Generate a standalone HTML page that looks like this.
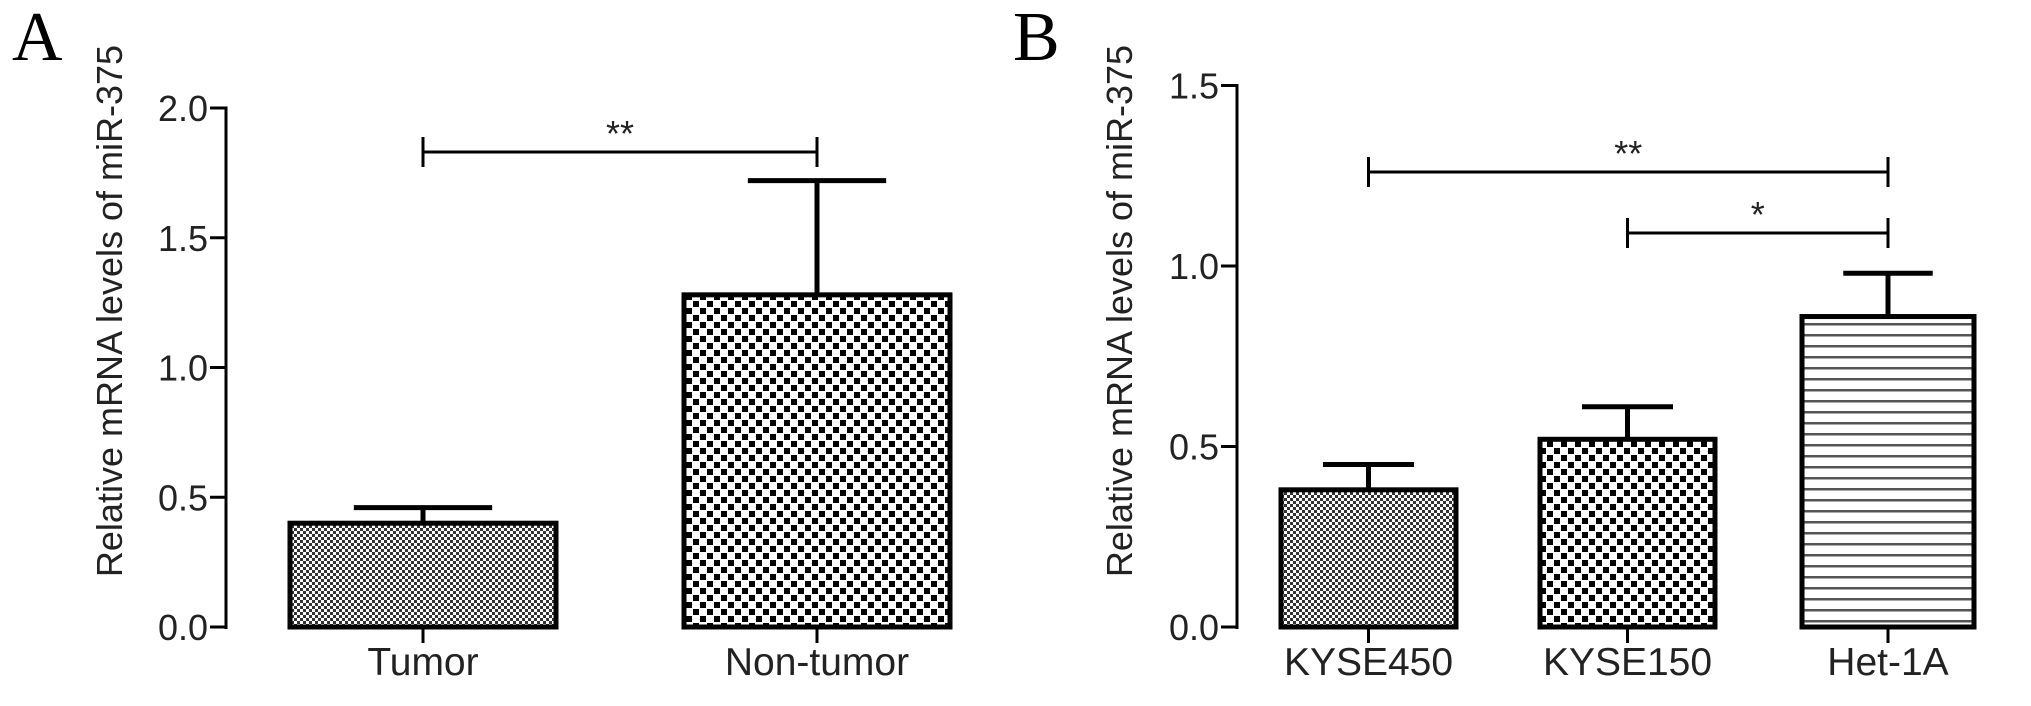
<!DOCTYPE html>
<html><head><meta charset="utf-8"><style>
html,body{margin:0;padding:0;background:#fff;}
svg{display:block;font-family:"Liberation Sans",Arial,sans-serif;}
</style></head><body>
<svg id="c" width="2031" height="706" viewBox="0 0 2031 706">
<defs>
<pattern id="pFine" width="6" height="6" patternUnits="userSpaceOnUse"><rect width="6" height="6" fill="#fff"/><rect x="0" y="0" width="3" height="3" fill="#333"/><rect x="3" y="3" width="3" height="3" fill="#333"/></pattern>
<pattern id="pCheck" width="14" height="14" patternUnits="userSpaceOnUse"><rect width="14" height="14" fill="#fff"/><rect x="0" y="0" width="6" height="6" fill="#000"/><rect x="7" y="7" width="6" height="6" fill="#000"/></pattern>
<pattern id="pLines" width="10" height="11" patternUnits="userSpaceOnUse"><rect width="10" height="11" fill="#fff"/><rect x="0" y="4" width="10" height="2.5" fill="#555"/></pattern>
</defs>
</svg>
<script>
const catsA=["Tumor","Non-tumor"];
const valsA=[0.40,1.28];
const errA=[0.46,1.72];
const ticksA=["0.0","0.5","1.0","1.5","2.0"];
const catsB=["KYSE450","KYSE150","Het-1A"];
const valsB=[0.38,0.52,0.86];
const errB=[0.45,0.61,0.98];
const ticksB=["0.0","0.5","1.0","1.5"];
const NS="http://www.w3.org/2000/svg";
const svg=document.getElementById('c');
function mk(t,a,txt){const e=document.createElementNS(NS,t);for(const k in a)e.setAttribute(k,a[k]);if(txt!==undefined)e.textContent=txt;svg.appendChild(e);return e;}
function panel(cfg){
  const y=v=>cfg.y0-v*cfg.k;
  let e=mk('text',{x:cfg.lx,y:60,'font-family':'Liberation Serif, serif','font-size':70},cfg.letter);
  
  
  e=mk('line',{x1:cfg.ax,y1:y(0)+2,x2:cfg.ax,y2:y(cfg.max)-1.5,stroke:'#000','stroke-width':3});
  
  
  cfg.ticks.forEach(t=>{
    const v=parseFloat(t);
    const l=mk('line',{x1:cfg.ax-16,y1:y(v),x2:cfg.ax,y2:y(v),stroke:'#000','stroke-width':3});
    
    
    const tx=mk('text',{x:cfg.ax-18,y:y(v)+13,'font-size':36,'text-anchor':'end',fill:'#222'},t);
    
    
  });
  e=mk('text',{x:0,y:0,'font-size':36,'text-anchor':'middle',fill:'#222',transform:`translate(${cfg.tx},311) rotate(-90)`},'Relative mRNA levels of miR-375');
  
  
  cfg.cats.forEach((c,i)=>{
    const x0=cfg.bars[i][0],x1=cfg.bars[i][1],cx=(x0+x1)/2,hw=(x1-x0)*0.26;
    const b=mk('rect',{x:x0,y:y(cfg.vals[i]),width:x1-x0,height:y(0)-y(cfg.vals[i]),fill:`url(#${cfg.pats[i]})`,stroke:'#000','stroke-width':5});
    
    
    const w=mk('path',{d:`M${cx},${y(cfg.vals[i])} V${y(cfg.err[i])} M${cx-hw},${y(cfg.err[i])} H${cx+hw}`,stroke:'#000','stroke-width':5,fill:'none'});
    
    
    const tk=mk('line',{x1:cx,y1:y(0),x2:cx,y2:y(0)+16,stroke:'#000','stroke-width':3});
    
    
    const t=mk('text',{x:cx,y:675,'font-size':39,'text-anchor':'middle',fill:'#222'},c);
    
    
  });
  cfg.brackets.forEach(br=>{
    const a=(cfg.bars[br[0]][0]+cfg.bars[br[0]][1])/2,b=(cfg.bars[br[1]][0]+cfg.bars[br[1]][1])/2;
    const p=mk('path',{d:`M${a},${br[2]-15} V${br[2]+15} M${a},${br[2]} H${b} M${b},${br[2]-15} V${br[2]+15}`,stroke:'#000','stroke-width':3,fill:'none'});
    
    
    const s=mk('text',{x:(a+b)/2,y:br[2]-6,'font-size':36,'text-anchor':'middle',fill:'#222'},br[3]);
    
    
  });
}
panel({letter:'A',lx:12,ax:226,y0:627,k:259.5,max:2.0,tx:122,ticks:ticksA,cats:catsA,vals:valsA,err:errA,
  bars:[[290,556],[684,950]],pats:['pFine','pCheck'],brackets:[[0,1,152,'**']]});
panel({letter:'B',lx:1013,ax:1237,y0:627,k:361,max:1.5,tx:1132,ticks:ticksB,cats:catsB,vals:valsB,err:errB,
  bars:[[1281,1456],[1540,1715],[1802,1974]],pats:['pFine','pCheck','pLines'],brackets:[[0,2,172,'**'],[1,2,233,'*']]});
</script>
</body></html>
